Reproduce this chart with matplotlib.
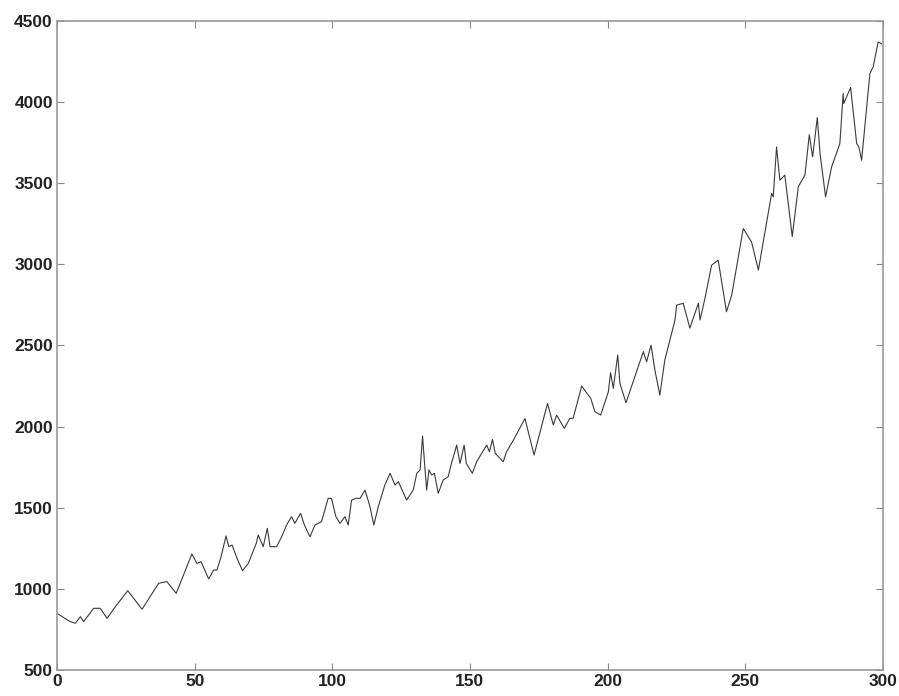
import numpy as np
import matplotlib.pyplot as plt

# vertices (index, value)
t = [0, 4.8, 6.7, 8.5, 9.7, 13.3, 15.7, 18.2, 21.2, 25.7, 30.9, 36.9, 39.9, 43.3,
     49.0, 50.8, 52.3, 55.1, 56.9, 58.1, 59.6, 61.4, 62.4, 63.6, 65.4, 67.4, 69.5,
     72.4, 73.1, 74.9, 76.4, 77.4, 79.8, 81.6, 83.4, 85.2, 86.4, 88.5, 89.9, 91.9,
     93.7, 96.1, 98.5, 99.7, 101.3, 102.8, 104.6, 105.8, 107.0, 108.6, 110.1, 111.9,
     113.7, 115.1, 116.7, 119.1, 121.0, 122.8, 124.0, 127.0, 129.4, 130.7, 131.9,
     132.8, 133.7, 134.3, 135.1, 136.1, 137.1, 138.5, 140.3, 142.1, 143.3, 145.2,
     146.4, 147.9, 148.7, 150.9, 152.4, 156.1, 157.1, 158.2, 159.2, 162.1, 163.3,
     165.8, 170.0, 173.3, 178.2, 180.3, 181.5, 184.3, 186.3, 187.5, 190.6, 193.9,
     195.4, 197.5, 200.3, 201.1, 202.1, 203.7, 204.5, 206.7, 213.0, 214.2, 215.8,
     217.2, 219.0, 220.8, 224.5, 225.1, 227.5, 229.9, 233.0, 233.6, 235.4, 237.8,
     240.2, 243.2, 245.1, 249.3, 252.3, 254.8, 259.6, 260.2, 261.4, 262.6, 264.4,
     267.1, 269.3, 271.7, 273.3, 274.5, 276.2, 277.2, 279.2, 281.4, 284.4, 285.6,
     285.8, 288.3, 290.5, 291.3, 292.3, 295.3, 296.5, 298.3, 299.5]
y = [849, 798, 788, 829, 798, 880, 880, 818, 890, 989, 874, 1034, 1045, 972,
     1215, 1157, 1168, 1061, 1116, 1116, 1198, 1326, 1260, 1270, 1188, 1112, 1157,
     1281, 1332, 1260, 1373, 1260, 1260, 1321, 1393, 1445, 1404, 1465, 1393, 1321,
     1393, 1414, 1558, 1558, 1445, 1404, 1445, 1393, 1547, 1558, 1558, 1609,
     1506, 1393, 1506, 1640, 1712, 1640, 1661, 1547, 1609, 1712, 1733,
     1942, 1733, 1609, 1733, 1702, 1712, 1589, 1671, 1691, 1773, 1886,
     1773, 1886, 1773, 1712, 1783, 1886, 1845, 1921, 1835, 1783, 1845,
     1917, 2050, 1825, 2143, 2010, 2071, 1989, 2051, 2051, 2250, 2174,
     2092, 2071, 2215, 2332, 2236, 2441, 2266, 2147, 2462, 2400, 2502,
     2349, 2194, 2410, 2657, 2749, 2760, 2607, 2761, 2657, 2792, 2995,
     3026, 2708, 2810, 3221, 3139, 2965, 3437, 3417, 3724, 3519, 3550,
     3171, 3479, 3550, 3799, 3663, 3905, 3683, 3416, 3601, 3745, 4054,
     3992, 4090, 3745, 3724, 3642, 4176, 4217, 4371, 4360]

x_ticks = [0, 50, 100, 150, 200, 250, 300]
y_ticks = [500, 1000, 1500, 2000, 2500, 3000, 3500, 4000, 4500]

plt.rcParams['font.family'] = ['Liberation Sans', 'DejaVu Sans']

fig = plt.figure(figsize=(8.99, 6.96), dpi=100)
ax = fig.add_axes([0.0634, 0.0374, 0.9186, 0.9324])
ax.plot(t, y, color="#3a3a3a", linewidth=0.8)

ax.set_xlim(0, 300)
ax.set_ylim(500, 4500)
ax.set_xticks(x_ticks)
ax.set_yticks(y_ticks)
ax.tick_params(direction="in", length=5, color="#888888", labelsize=12.5,
               top=True, right=True, pad=3)
for lab in ax.get_xticklabels() + ax.get_yticklabels():
    lab.set_fontweight("bold")
    lab.set_color("#222222")
for s in ax.spines.values():
    s.set_color("#999999")
    s.set_linewidth(1.2)

fig.savefig("out.png", dpi=100)
